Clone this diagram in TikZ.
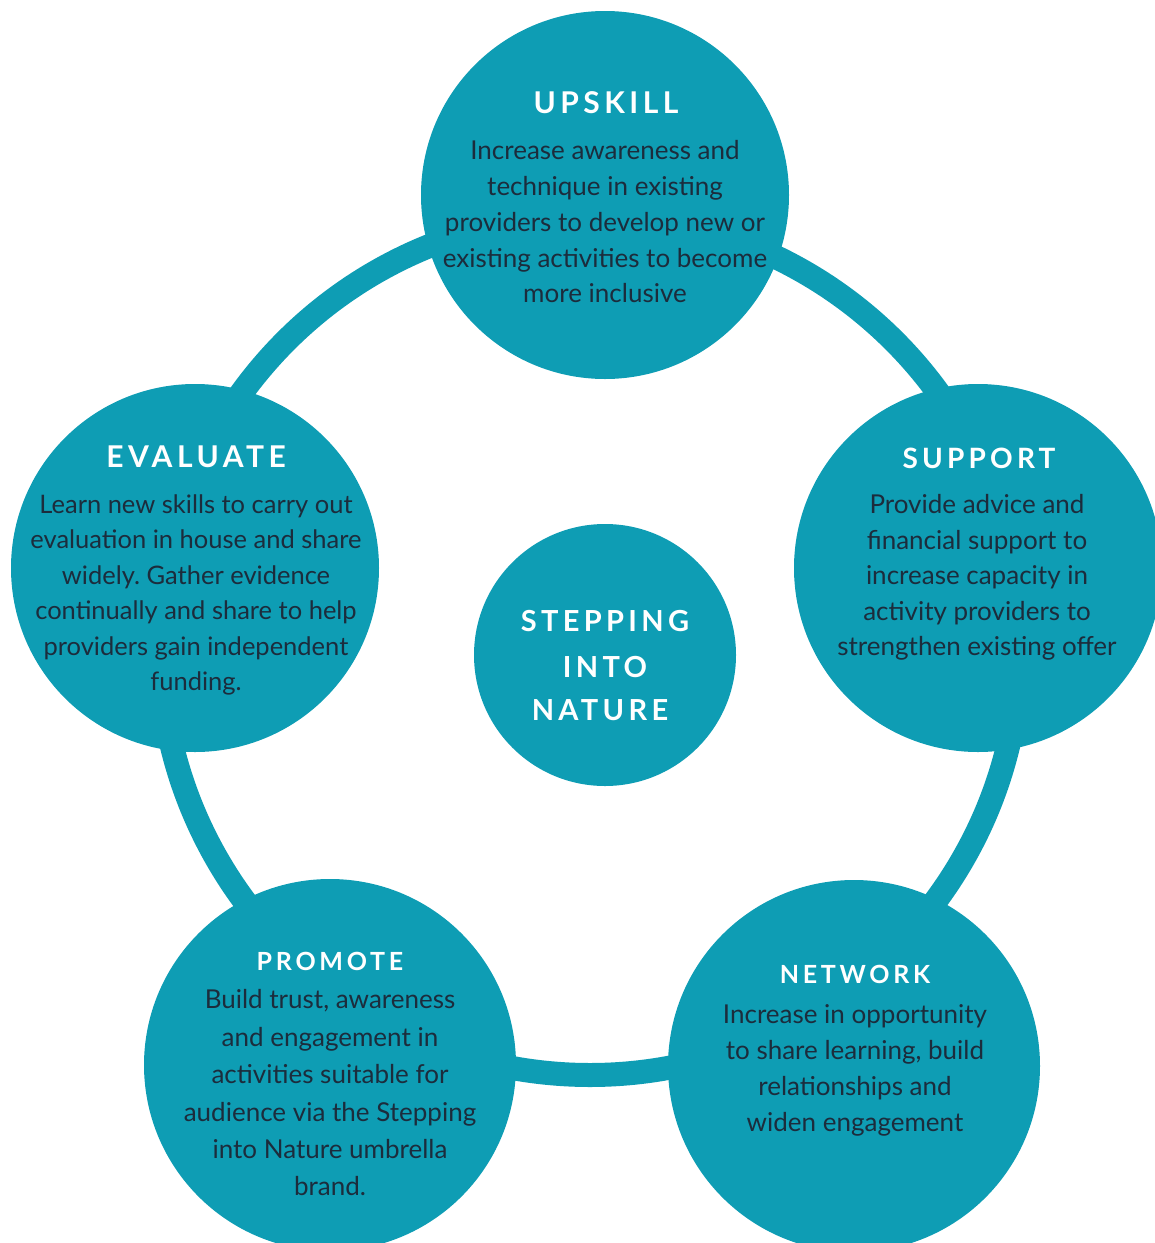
\documentclass[tikz,border=0pt]{standalone}
\usepackage{fontspec}
\setmainfont{Lato}
\newfontfamily\headfont[LetterSpace=15]{Lato}
\definecolor{sinTeal}{RGB}{14,157,180}
\definecolor{sinInk}{RGB}{28,44,60}
\frenchspacing

\begin{document}
\begin{tikzpicture}[x=1pt,y=-1pt,
  disc/.style={circle, fill=sinTeal, inner sep=0pt, minimum size=#1},
  head/.style={text=white, anchor=base, inner sep=0pt,
    font=\headfont\bfseries\fontsize{#1}{#1}\selectfont},
  body/.style={text=sinInk, align=center, anchor=north, inner sep=0pt,
    font=\fontsize{26}{#1}\selectfont},
  ring/.style={draw=sinTeal, line width=24pt}
]
\useasboundingbox (0,0) rectangle (1155,1243);
\clip (0,0) rectangle (1155,1243);

% the ring that links the five stages
\coordinate (hub) at (590,645);
\draw[ring] (hub) circle[radius=430pt];

% discs
\node[disc=368pt] (upskill)  at (605,195)  {};
\node[disc=368pt] (evaluate) at (195,568)  {};
\node[disc=368pt] (support)  at (978,568)  {};
\node[disc=372pt] (promote)  at (330,1065) {};
\node[disc=372pt] (network)  at (854,1066) {};
\node[disc=262pt] (centre)   at (605,655)  {};

% titles
\node[head=30] (upskillT)  at (606,113) {UPSKILL};
\node[head=30] (evaluateT) at (196,467) {EVALUATE};
\node[head=28] (supportT)  at (979,468) {SUPPORT};
\node[head=25] (promoteT)  at (330,970) {PROMOTE};
\node[head=25] (networkT)  at (855,983) {NETWORK};

\node[head=29] (c1) at (605,631) {STEPPING};
\node[head=29] (c2) at (605,677) {INTO};
\node[head=29] (c3) at (600,720) {NATURE};

% descriptions
\node[body=35.75] (upskillB) at (605,140.5) {Increase awareness and\\technique in existing\\providers to develop new or\\existing activities to become\\more inclusive};
\node[body=35.4, font=\fontsize{25.5}{35.4}\selectfont] (evaluateB) at (196,494.5) {Learn new skills to carry out\\evaluation in house and share\\widely. Gather evidence\\continually and share to help\\providers gain independent\\funding.};
\node[body=35.5] (supportB) at (977,494.5) {Provide advice and\\financial support to\\increase capacity in\\activity providers to\\strengthen existing offer};
\node[body=37.4] (promoteB) at (330,989.5) {Build trust, awareness\\and engagement in\\activities suitable for\\audience via the Stepping\\into Nature umbrella\\brand.};
\node[body=36] (networkB) at (855,1004.5) {Increase in opportunity\\to share learning, build\\relationships and\\widen engagement};
\end{tikzpicture}
\end{document}
